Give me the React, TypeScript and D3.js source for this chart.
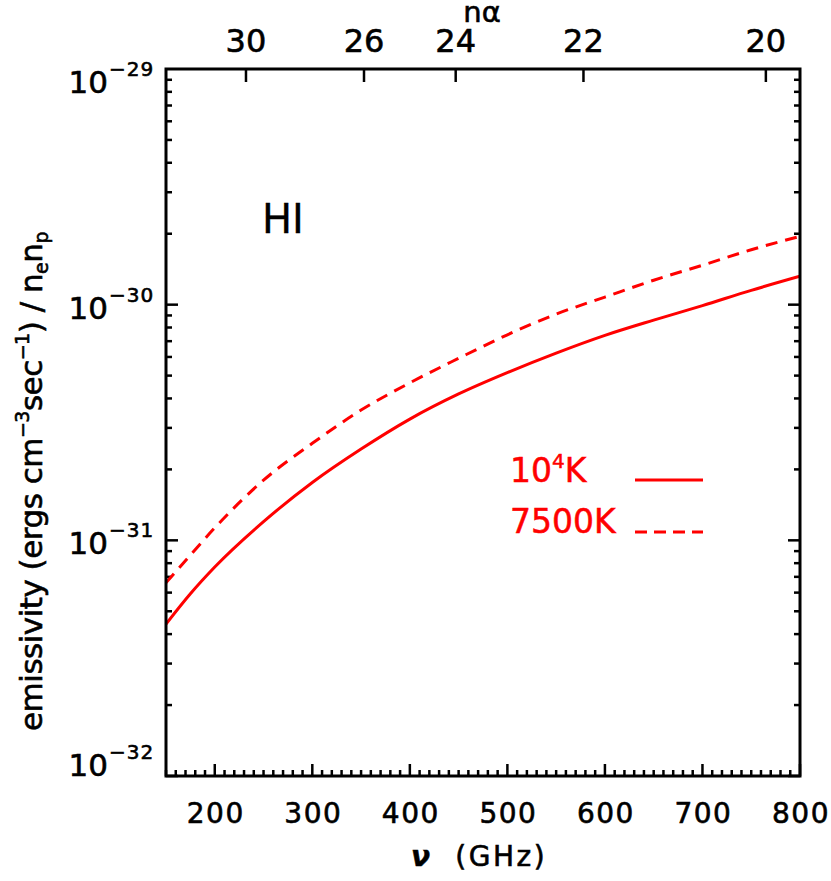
import * as d3 from 'd3';
import { useEffect, useRef } from "react";

// frequency grid (GHz) and emissivity
const freqs = [150, 175, 200, 250, 300, 350, 400, 450, 500, 550, 600, 650, 700, 750, 800];
const emis1e4 = [4.41e-32, 5.93e-32, 7.70e-32, 1.20e-31, 1.76e-31, 2.44e-31, 3.27e-31, 4.18e-31, 5.15e-31, 6.23e-31, 7.41e-31, 8.60e-31, 9.91e-31, 1.15e-30, 1.32e-30];
const emis7500 = [6.61e-32, 8.66e-32, 1.13e-31, 1.80e-31, 2.58e-31, 3.57e-31, 4.66e-31, 5.92e-31, 7.45e-31, 9.12e-31, 1.077e-30, 1.27e-30, 1.47e-30, 1.71e-30, 1.95e-30];

const xTicks = [200, 300, 400, 500, 600, 700, 800];
const yTicks = [1e-32, 1e-31, 1e-30, 1e-29];
const yExps = ['32', '31', '30', '29'];
// top axis: n alpha line positions (GHz) and labels
const topFreqs = [232, 353, 447, 578, 765];
const topLabels = ['30', '26', '24', '22', '20'];

const FONT = "'DejaVu Sans', sans-serif";

const App = () => {
    const svgRef = useRef<SVGSVGElement>(null);
    const width = 831, height = 881;
    const margin = { top: 69, bottom: 105, left: 166, right: 31 };

    useEffect(() => {
        const svg = d3.select(svgRef.current);
        svg.selectAll('*').remove();

        const x = d3.scaleLinear().domain([150, 800]).range([margin.left, width - margin.right]);
        const y = d3.scaleLog().domain([1e-32, 1e-29]).range([height - margin.bottom, margin.top]);
        const x0 = margin.left, x1 = width - margin.right;
        const y0 = margin.top, y1 = height - margin.bottom;

        svg.append('rect').attr('width', width).attr('height', height).attr('fill', 'white');

        const ax = svg.append('g').attr('stroke', 'black').attr('stroke-width', 2.5);

        // bottom minor/major ticks every 10 GHz
        d3.range(150, 801, 10).forEach(v => {
            const major = v % 100 === 0;
            ax.append('line').attr('x1', x(v)).attr('x2', x(v))
                .attr('y1', y1).attr('y2', y1 - (major ? 12 : 6));
        });
        // top ticks (n alpha)
        topFreqs.forEach(v => {
            ax.append('line').attr('x1', x(v)).attr('x2', x(v))
                .attr('y1', y0).attr('y2', y0 + 13);
        });
        // left + right log ticks
        for (let e = -32; e < -29; e++) {
            for (let m = 1; m <= 9; m++) {
                const v = m * Math.pow(10, e);
                const len = m === 1 ? 12 : 6;
                ax.append('line').attr('x1', x0).attr('x2', x0 + len).attr('y1', y(v)).attr('y2', y(v));
                ax.append('line').attr('x1', x1).attr('x2', x1 - len).attr('y1', y(v)).attr('y2', y(v));
            }
        }

        // curves
        const clip = svg.append('clipPath').attr('id', 'plotclip');
        clip.append('rect').attr('x', x0).attr('y', y0).attr('width', x1 - x0).attr('height', y1 - y0);
        const line = d3.line<number>()
            .x((d, i) => x(freqs[i]))
            .y(d => y(d))
            .curve(d3.curveMonotoneX);
        svg.append('path').attr('d', line(emis1e4))
            .attr('fill', 'none').attr('stroke', '#ff0000').attr('stroke-width', 3)
            .attr('clip-path', 'url(#plotclip)');
        svg.append('path').attr('d', line(emis7500))
            .attr('fill', 'none').attr('stroke', '#ff0000').attr('stroke-width', 3)
            .attr('stroke-dasharray', '12,8')
            .attr('clip-path', 'url(#plotclip)');

        // frame
        svg.append('rect').attr('x', x0).attr('y', y0).attr('width', x1 - x0).attr('height', y1 - y0)
            .attr('fill', 'none').attr('stroke', 'black').attr('stroke-width', 3);

        const txt = svg.append('g').attr('font-family', FONT).attr('fill', 'black')
            .attr('stroke', 'black').attr('stroke-width', 0.6);

        // bottom labels
        xTicks.forEach(v => {
            txt.append('text').attr('x', x(v) + 1).attr('y', y1 + 47)
                .attr('text-anchor', 'middle').attr('font-size', 28)
                .attr('letter-spacing', 1.5).text(String(v));
        });
        // top labels
        topFreqs.forEach((v, i) => {
            txt.append('text').attr('x', x(v)).attr('y', 52)
                .attr('text-anchor', 'middle').attr('font-size', 32)
                .text(topLabels[i]);
        });
        txt.append('text').attr('x', 482).attr('y', 22)
            .attr('text-anchor', 'middle').attr('font-size', 29)
            .text('nα');

        // left labels 10^-N, kept inside the axis range like IDL does
        yTicks.forEach((v, i) => {
            const c = Math.min(Math.max(y(v), y0 + 10), y1 - 14);
            txt.append('text').attr('x', 108).attr('y', c + 14)
                .attr('text-anchor', 'end').attr('font-size', 31)
                .text('10');
            txt.append('text').attr('x', 109).attr('y', c - 3)
                .attr('font-size', 20).attr('letter-spacing', 1)
                .text('\u2212' + yExps[i]);
        });

        // x title
        const xt = txt.append('text').attr('x', 479).attr('y', 866)
            .attr('text-anchor', 'middle').attr('font-size', 28)
            .attr('letter-spacing', 2.5).style('white-space', 'pre');
        xt.append('tspan').attr('font-style', 'italic').attr('font-weight', 'bold').text('ν');
        xt.append('tspan').text('  (GHz)');

        // y title
        const yt = txt.append('text').attr('transform', 'translate(42,731) rotate(-90)')
            .attr('font-size', 31).attr('letter-spacing', -0.5);
        yt.append('tspan').text('emissivity (ergs cm');
        yt.append('tspan').attr('font-size', 19).attr('dy', -13).text('\u22123');
        yt.append('tspan').attr('dy', 13).text('sec');
        yt.append('tspan').attr('font-size', 19).attr('dy', -13).text('\u22121');
        yt.append('tspan').attr('dy', 13).text(') / n');
        yt.append('tspan').attr('font-size', 19).attr('dy', 6).text('e');
        yt.append('tspan').attr('dy', -6).text('n');
        yt.append('tspan').attr('font-size', 19).attr('dy', 6).text('p');

        // HI label
        txt.append('text').attr('x', 262).attr('y', 233)
            .attr('font-size', 40).attr('stroke-width', 0.3).text('HI');

        // legend
        const lg = svg.append('g').attr('fill', '#ff0000').attr('stroke', '#ff0000')
            .attr('stroke-width', 0.5).attr('font-family', FONT).attr('font-size', 33);
        const t1 = lg.append('text').attr('x', 510).attr('y', 482);
        t1.append('tspan').text('10');
        t1.append('tspan').attr('font-size', 20).attr('dy', -14).text('4');
        t1.append('tspan').attr('dy', 14).text('K');
        lg.append('text').attr('x', 510).attr('y', 533).text('7500K');
        svg.append('line').attr('x1', 635).attr('x2', 703).attr('y1', 480).attr('y2', 480)
            .attr('stroke', '#ff0000').attr('stroke-width', 3);
        svg.append('line').attr('x1', 635).attr('x2', 703).attr('y1', 532).attr('y2', 532)
            .attr('stroke', '#ff0000').attr('stroke-width', 3).attr('stroke-dasharray', '12,7');
    });

    return (
        <svg ref={svgRef} width={width} height={height}
            style={{ position: 'absolute', left: 0, top: 0, display: 'block' }} />
    );
}

export default App;
